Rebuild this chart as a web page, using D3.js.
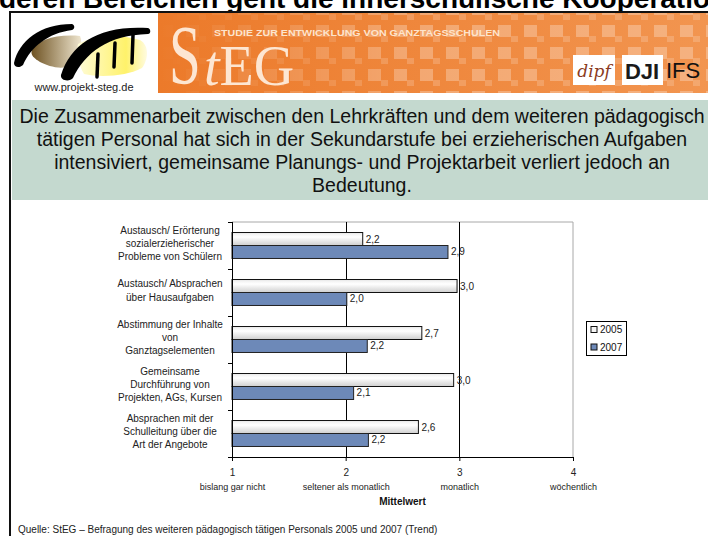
<!DOCTYPE html>
<html>
<head>
<meta charset="utf-8">
<script src="https://cdn.jsdelivr.net/npm/d3@7"></script>
<style>
  body { margin: 0; background: #fff; }
  svg { display: block; font-family: "Liberation Sans", Arial, sans-serif; }
</style>
</head>
<body>
<svg id="chart" width="708" height="536"></svg>
<script>
// chart data
const categories = [
  ["Austausch/ Erörterung", "sozialerzieherischer", "Probleme von Schülern"],
  ["Austausch/ Absprachen", "über Hausaufgaben"],
  ["Abstimmung der Inhalte", "von", "Ganztagselementen"],
  ["Gemeinsame", "Durchführung von", "Projekten, AGs, Kursen"],
  ["Absprachen mit der", "Schulleitung über die", "Art der Angebote"]
];
const years = ["2005", "2007"];
const values2005 = [2.15, 2.98, 2.67, 2.95, 2.64];
const values2007 = [2.90, 2.01, 2.19, 2.07, 2.20];
const labels2005 = ["2,2", "3,0", "2,7", "3,0", "2,6"];
const labels2007 = ["2,9", "2,0", "2,2", "2,1", "2,2"];
const xTicks = [1, 2, 3, 4];
const xTickNames = ["bislang gar nicht", "seltener als monatlich", "monatlich", "wöchentlich"];
const headline = [
  "Die Zusammenarbeit zwischen den Lehrkräften und dem weiteren pädagogisch",
  "tätigen Personal hat sich in der Sekundarstufe bei erzieherischen Aufgaben",
  "intensiviert, gemeinsame Planungs- und Projektarbeit verliert jedoch an",
  "Bedeutung."
];
const slideTitle = "deren Bereichen geht die innerschulische Kooperation zurück";
const sourceNote = "Quelle: StEG – Befragung des weiteren pädagogisch tätigen Personals 2005 und 2007 (Trend)";

const svg = d3.select("#chart");
const defs = svg.append("defs");

// ---- slide frame + header ----
svg.append("text")
  .attr("x", -1).attr("y", 8)
  .attr("font-size", 28).attr("font-weight", "bold").attr("fill", "#000")
  .text(slideTitle);

svg.append("rect")
  .attr("x", 10).attr("y", 12).attr("width", 720).attr("height", 540)
  .attr("fill", "#fff").attr("stroke", "#111").attr("stroke-width", 2);

// orange banner
const bannerGrad = defs.append("linearGradient").attr("id", "banner");
bannerGrad.append("stop").attr("offset", "0%").attr("stop-color", "#ec7a2a");
bannerGrad.append("stop").attr("offset", "100%").attr("stop-color", "#f29550");
const squares = defs.append("pattern").attr("id", "squares")
  .attr("patternUnits", "userSpaceOnUse").attr("width", 26).attr("height", 22);
squares.append("rect").attr("x", 4).attr("y", 3).attr("width", 13).attr("height", 12)
  .attr("fill", "#fff").attr("opacity", 0.28);
squares.append("rect").attr("x", 17).attr("y", 14).attr("width", 7).attr("height", 6)
  .attr("fill", "#fff").attr("opacity", 0.18);
const fadeGrad = defs.append("linearGradient").attr("id", "fade");
fadeGrad.append("stop").attr("offset", "0%").attr("stop-color", "#fff").attr("stop-opacity", 0);
fadeGrad.append("stop").attr("offset", "45%").attr("stop-color", "#fff").attr("stop-opacity", 1);
defs.append("mask").attr("id", "fadeMask")
  .append("rect").attr("x", 158).attr("y", 13).attr("width", 550).attr("height", 80)
  .attr("fill", "url(#fade)");

svg.append("rect").attr("x", 158).attr("y", 13).attr("width", 550).attr("height", 80)
  .attr("fill", "url(#banner)");
svg.append("rect").attr("x", 158).attr("y", 13).attr("width", 550).attr("height", 80)
  .attr("fill", "url(#squares)").attr("mask", "url(#fadeMask)");

// StEG word mark
svg.append("text")
  .attr("transform", "translate(169,84) scale(0.68,1)")
  .attr("font-family", "'Liberation Serif', 'DejaVu Serif', serif")
  .attr("font-size", 84).attr("fill", "#fde6d2")
  .text("S");
svg.append("text")
  .attr("x", 204).attr("y", 85)
  .attr("font-family", "'Liberation Serif', 'DejaVu Serif', serif")
  .attr("font-size", 56).attr("fill", "#fde6d2")
  .call(t => {
    t.append("tspan").attr("font-style", "italic").text("t");
    t.append("tspan").text("EG");
  });
svg.append("text")
  .attr("x", 214).attr("y", 36)
  .attr("font-size", 9.5).attr("font-weight", "bold").attr("fill", "#fde4cc")
  .attr("textLength", 286).attr("lengthAdjust", "spacingAndGlyphs")
  .text("STUDIE ZUR ENTWICKLUNG VON GANZTAGSSCHULEN");

// partner logos
svg.append("rect").attr("x", 573).attr("y", 55).attr("width", 42).attr("height", 30).attr("fill", "#fff");
svg.append("text").attr("x", 594).attr("y", 77).attr("text-anchor", "middle")
  .attr("font-family", "'DejaVu Serif', serif").attr("font-style", "italic")
  .attr("font-size", 17).attr("fill", "#8a3a22").text("dipf");
svg.append("rect").attr("x", 622).attr("y", 55).attr("width", 41).attr("height", 30).attr("fill", "#fff");
svg.append("text").attr("x", 642).attr("y", 79).attr("text-anchor", "middle")
  .attr("font-size", 22).attr("font-weight", "bold").attr("fill", "#1a1a1a").text("DJI");
svg.append("text").attr("x", 666).attr("y", 78)
  .attr("font-size", 22).attr("fill", "#111").text("IFS");

// projekt-steg logo (left)
const brown = defs.append("linearGradient").attr("id", "brown")
  .attr("x1", "0%").attr("y1", "0%").attr("x2", "100%").attr("y2", "0%");
brown.append("stop").attr("offset", "0%").attr("stop-color", "#6e5222");
brown.append("stop").attr("offset", "100%").attr("stop-color", "#efe6cf");
const yellow = defs.append("linearGradient").attr("id", "yellow")
  .attr("x1", "0%").attr("y1", "0%").attr("x2", "100%").attr("y2", "0%");
yellow.append("stop").attr("offset", "0%").attr("stop-color", "#fffcd8");
yellow.append("stop").attr("offset", "70%").attr("stop-color", "#fff26a");
yellow.append("stop").attr("offset", "100%").attr("stop-color", "#fffbe0");
const logo = svg.append("g");
logo.append("path").attr("fill", "url(#brown)")
  .attr("d", "M32,50 C38,40 55,34 80,36 C84,44 78,58 70,66 C60,70 48,66 40,62 C34,58 30,55 32,50 Z");
logo.append("path").attr("fill", "url(#yellow)")
  .attr("d", "M78,44 C92,36 120,34 140,40 C150,46 148,60 142,68 C128,76 100,78 84,74 C78,64 76,52 78,44 Z");
logo.append("path").attr("fill", "#000")
  .attr("d", "M14,63 C19,41 40,24 72,24 C75,25 75,29 72,30 C48,33 31,47 23,65 C20,68 14,68 14,63 Z");
logo.append("path").attr("fill", "#000")
  .attr("d", "M61,75 C71,43 100,25 148,28 C151,29 151,34 148,34 C108,35 85,53 73,78 C70,82 60,81 61,75 Z");
logo.selectAll("line.stroke")
  .data([[98, 54, 97, 77], [115, 43, 114, 67], [133, 35, 132, 63]])
  .join("line").attr("class", "stroke")
  .attr("x1", d => d[0]).attr("y1", d => d[1]).attr("x2", d => d[2]).attr("y2", d => d[3])
  .attr("stroke", "#000").attr("stroke-width", 3.5).attr("stroke-linecap", "round");
svg.append("text").attr("x", 84).attr("y", 91).attr("text-anchor", "middle")
  .attr("font-size", 11).attr("fill", "#222").text("www.projekt-steg.de");

// green headline box
svg.append("rect").attr("x", 12).attr("y", 100).attr("width", 700).attr("height", 100)
  .attr("fill", "#c4d9cf");
svg.append("g").selectAll("text")
  .data(headline)
  .join("text")
  .attr("x", 362).attr("y", (d, i) => 123 + i * 23)
  .attr("text-anchor", "middle")
  .attr("font-size", 19.5).attr("fill", "#111")
  .text(d => d);

// ---- chart ----
const plot = { left: 232, right: 573, top: 222, bottom: 457 };

const x = d3.scaleLinear().domain([1, 4]).range([plot.left, plot.right]);
const y = d3.scaleBand().domain(d3.range(categories.length))
  .range([plot.top, plot.bottom]).padding(0);
const ySub = d3.scaleBand().domain(years)
  .range([0, y.bandwidth()]).paddingInner(0).paddingOuter(0.81);

const barGrad = defs.append("linearGradient").attr("id", "bar05")
  .attr("x1", "0%").attr("y1", "0%").attr("x2", "0%").attr("y2", "100%");
barGrad.append("stop").attr("offset", "0%").attr("stop-color", "#ececec");
barGrad.append("stop").attr("offset", "35%").attr("stop-color", "#ffffff");
barGrad.append("stop").attr("offset", "100%").attr("stop-color", "#cfcfcf");

const fills = { "2005": "url(#bar05)", "2007": "#6d89b8" };
const strokes = { "2005": "#111", "2007": "#222" };

// plot frame (top/right grey) and gridlines
svg.append("path")
  .attr("d", `M${plot.left},${plot.top}H${plot.right}V${plot.bottom}`)
  .attr("fill", "none").attr("stroke", "#a8a8a8");
svg.append("g").selectAll("line")
  .data([2, 3])
  .join("line")
  .attr("x1", d => Math.round(x(d)) + 0.5).attr("x2", d => Math.round(x(d)) + 0.5)
  .attr("y1", plot.top).attr("y2", plot.bottom)
  .attr("stroke", "#000");

const rows = categories.map((c, i) => ({
  i,
  bars: [
    { year: "2005", value: values2005[i], label: labels2005[i] },
    { year: "2007", value: values2007[i], label: labels2007[i] }
  ]
}));

const groups = svg.append("g").selectAll("g")
  .data(rows)
  .join("g")
  .attr("transform", d => `translate(0,${y(d.i)})`);

groups.selectAll("rect")
  .data(d => d.bars)
  .join("rect")
  .attr("x", x(1))
  .attr("y", d => ySub(d.year))
  .attr("width", d => x(d.value) - x(1))
  .attr("height", ySub.bandwidth())
  .attr("fill", d => fills[d.year])
  .attr("stroke", d => strokes[d.year]).attr("stroke-width", 1);

groups.selectAll("text")
  .data(d => d.bars)
  .join("text")
  .attr("x", d => x(d.value) + 3)
  .attr("y", d => ySub(d.year) + ySub.bandwidth() / 2)
  .attr("dy", "0.35em")
  .attr("font-size", 10).attr("fill", "#222")
  .text(d => d.label);

// axes
const xAxis = svg.append("g")
  .attr("transform", `translate(0,${plot.bottom})`)
  .call(d3.axisBottom(x).tickValues(xTicks).tickSize(4).tickFormat(d3.format("d")));
xAxis.select(".domain").attr("stroke", "#000");
xAxis.selectAll(".tick text").attr("font-size", 10).attr("fill", "#222").attr("dy", "1.2em");
xAxis.selectAll(".tick")
  .append("text")
  .attr("y", 33).attr("fill", "#222").attr("font-size", 9)
  .attr("text-anchor", "middle")
  .text((d, i) => xTickNames[i]);

const catEdges = d3.range(categories.length + 1).map(i => plot.top + i * y.step());
svg.append("line")
  .attr("x1", plot.left + 0.5).attr("x2", plot.left + 0.5)
  .attr("y1", plot.top).attr("y2", plot.bottom + 4)
  .attr("stroke", "#000");
svg.append("g").selectAll("line")
  .data(catEdges)
  .join("line")
  .attr("x1", plot.left - 4).attr("x2", plot.left)
  .attr("y1", d => Math.round(d) + 0.5).attr("y2", d => Math.round(d) + 0.5)
  .attr("stroke", "#000");

// category labels
svg.append("g").selectAll("text")
  .data(categories)
  .join("text")
  .attr("text-anchor", "middle").attr("font-size", 10).attr("fill", "#222")
  .each(function (lines, i) {
    const cy = y(i) + y.bandwidth() / 2 - 2;
    const lh = 13.4;
    d3.select(this).selectAll("tspan")
      .data(lines)
      .join("tspan")
      .attr("x", 170)
      .attr("y", (d, k) => cy + (k - (lines.length - 1) / 2) * lh)
      .attr("dy", "0.35em")
      .text(d => d);
  });

svg.append("text")
  .attr("x", (plot.left + plot.right) / 2).attr("y", 505)
  .attr("text-anchor", "middle").attr("font-size", 10).attr("font-weight", "bold").attr("fill", "#111")
  .text("Mittelwert");

// legend
const legend = svg.append("g").attr("transform", "translate(586,321)");
legend.append("rect").attr("x", 0.5).attr("y", 0.5).attr("width", 40).attr("height", 34)
  .attr("fill", "#fff").attr("stroke", "#000");
const legendItems = legend.selectAll("g.item")
  .data(years)
  .join("g").attr("class", "item")
  .attr("transform", (d, i) => `translate(5,${8.5 + i * 17.5})`);
legendItems.append("rect")
  .attr("x", 0).attr("y", -3).attr("width", 6).attr("height", 6)
  .attr("fill", d => d === "2005" ? "#f4f4f4" : fills[d])
  .attr("stroke", "#111");
legendItems.append("text")
  .attr("x", 9).attr("dy", "0.35em").attr("font-size", 10).attr("fill", "#111")
  .text(d => d);

// source line
svg.append("text")
  .attr("x", 18).attr("y", 533)
  .attr("font-size", 10).attr("fill", "#222")
  .text(sourceNote);
</script>
</body>
</html>
